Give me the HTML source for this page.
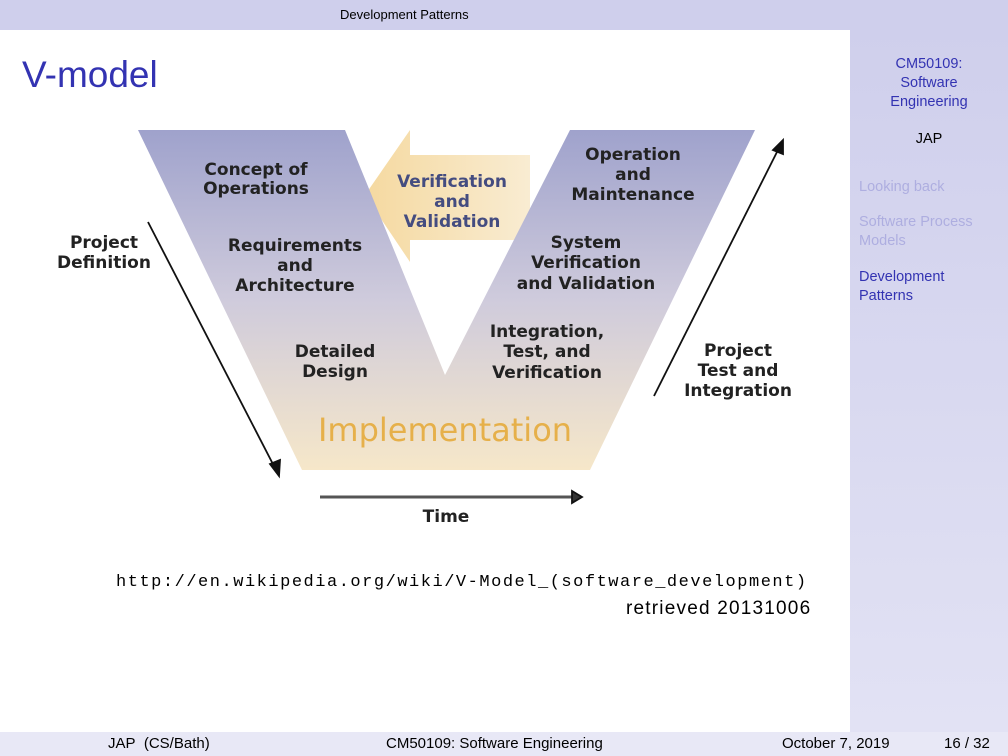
<!DOCTYPE html>
<html><head><meta charset="utf-8"><style>
body{margin:0;width:1008px;height:756px;overflow:hidden;background:#fff;font-family:"Liberation Sans",sans-serif;position:relative}
.hd{position:absolute;left:0;top:0;width:1008px;height:30px;background:#cfcfec;font-size:13px;text-align:center;line-height:30px}
.hd span{position:absolute;left:340px;top:0}
.sb{position:absolute;left:850px;top:30px;width:158px;height:702px;background:linear-gradient(#cfcfec,#e2e2f4)}
.sb div{position:absolute;font-size:14.5px;line-height:19px}
.ft{position:absolute;left:0;top:732px;width:1008px;height:24px;background:#e8e8f6;font-size:15px}
.ft span{position:absolute;top:3px}
.tt{position:absolute;left:22px;top:54px;font-size:37px;color:#3333b2}
.url{position:absolute;left:116px;top:573px;font-family:"Liberation Mono",monospace;font-size:17px;letter-spacing:1.52px}
.ret{position:absolute;left:626px;top:598px;font-size:19px;letter-spacing:1.2px}
</style></head><body>
<div class="hd"><span>Development Patterns</span></div>
<div class="sb">
<div style="left:0;width:158px;text-align:center;top:25px;color:#3333b2">CM50109:<br>Software<br>Engineering</div>
<div style="left:0;width:158px;text-align:center;top:100px">JAP</div>
<div style="left:9px;top:148px;color:#aeaee0">Looking back</div>
<div style="left:9px;top:183px;color:#aeaee0">Software Process<br>Models</div>
<div style="left:9px;top:238px;color:#3333b2">Development<br>Patterns</div>
</div>
<div class="tt">V-model</div>
<svg style="position:absolute;left:0;top:0" width="850" height="560">
<defs>
<linearGradient id="g" x1="0" y1="0" x2="0" y2="1">
<stop offset="0" stop-color="#9fa2cc"/><stop offset="0.5" stop-color="#cfcbdc"/><stop offset="1" stop-color="#f6e7c9"/></linearGradient>
<linearGradient id="a" x1="0" y1="0" x2="1" y2="0">
<stop offset="0" stop-color="#f5d9a0"/><stop offset="1" stop-color="#f9ecd2"/></linearGradient>
</defs>
<polygon points="365,195 410,130 410,155 530,155 530,240 410,240 410,262" fill="url(#a)"/>
<polygon points="138,130 345,130 445,375 570,130 755,130 590,470 302,470" fill="url(#g)"/>
<g stroke="#111" stroke-width="1.8" fill="#111">
<line x1="148" y1="222" x2="276" y2="470"/><polygon points="279,476 270,464 280,460"/>
<line x1="654" y1="396" x2="780" y2="146"/><polygon points="783,140 783,154 773,150"/>
<line x1="320" y1="497" x2="576" y2="497" stroke="#555" stroke-width="3"/><polygon points="582,497 572,491 572,503" fill="#333"/>
</g>
<g font-family="DejaVu Sans,sans-serif" font-weight="bold" font-size="17" fill="#222" text-anchor="middle">
<text x="256" y="175">Concept of</text><text x="256" y="194">Operations</text>
<text x="295" y="251">Requirements</text><text x="295" y="271">and</text><text x="295" y="291">Architecture</text>
<text x="335" y="357">Detailed</text><text x="335" y="377">Design</text>
<text x="452" y="187" fill="#444c80">Verification</text><text x="452" y="207" fill="#444c80">and</text><text x="452" y="227" fill="#444c80">Validation</text>
<text x="633" y="160">Operation</text><text x="633" y="180">and</text><text x="633" y="200">Maintenance</text>
<text x="586" y="248">System</text><text x="586" y="268">Verification</text><text x="586" y="289">and Validation</text>
<text x="547" y="337">Integration,</text><text x="547" y="357">Test, and</text><text x="547" y="378">Verification</text>
<text x="104" y="248">Project</text><text x="104" y="268">Definition</text>
<text x="738" y="356">Project</text><text x="738" y="376">Test and</text><text x="738" y="396">Integration</text>
<text x="446" y="522">Time</text>
<text x="445" y="441" font-size="32" font-weight="normal" fill="#e6b04a">Implementation</text>
</g>
</svg>
<div class="url">http://en.wikipedia.org/wiki/V-Model_(software_development)</div>
<div class="ret">retrieved 20131006</div>
<div class="ft"><span style="left:108px">JAP&nbsp;&nbsp;(CS/Bath)</span><span style="left:386px">CM50109: Software Engineering</span><span style="left:782px">October 7, 2019</span><span style="left:944px">16 / 32</span></div>
</body></html>
